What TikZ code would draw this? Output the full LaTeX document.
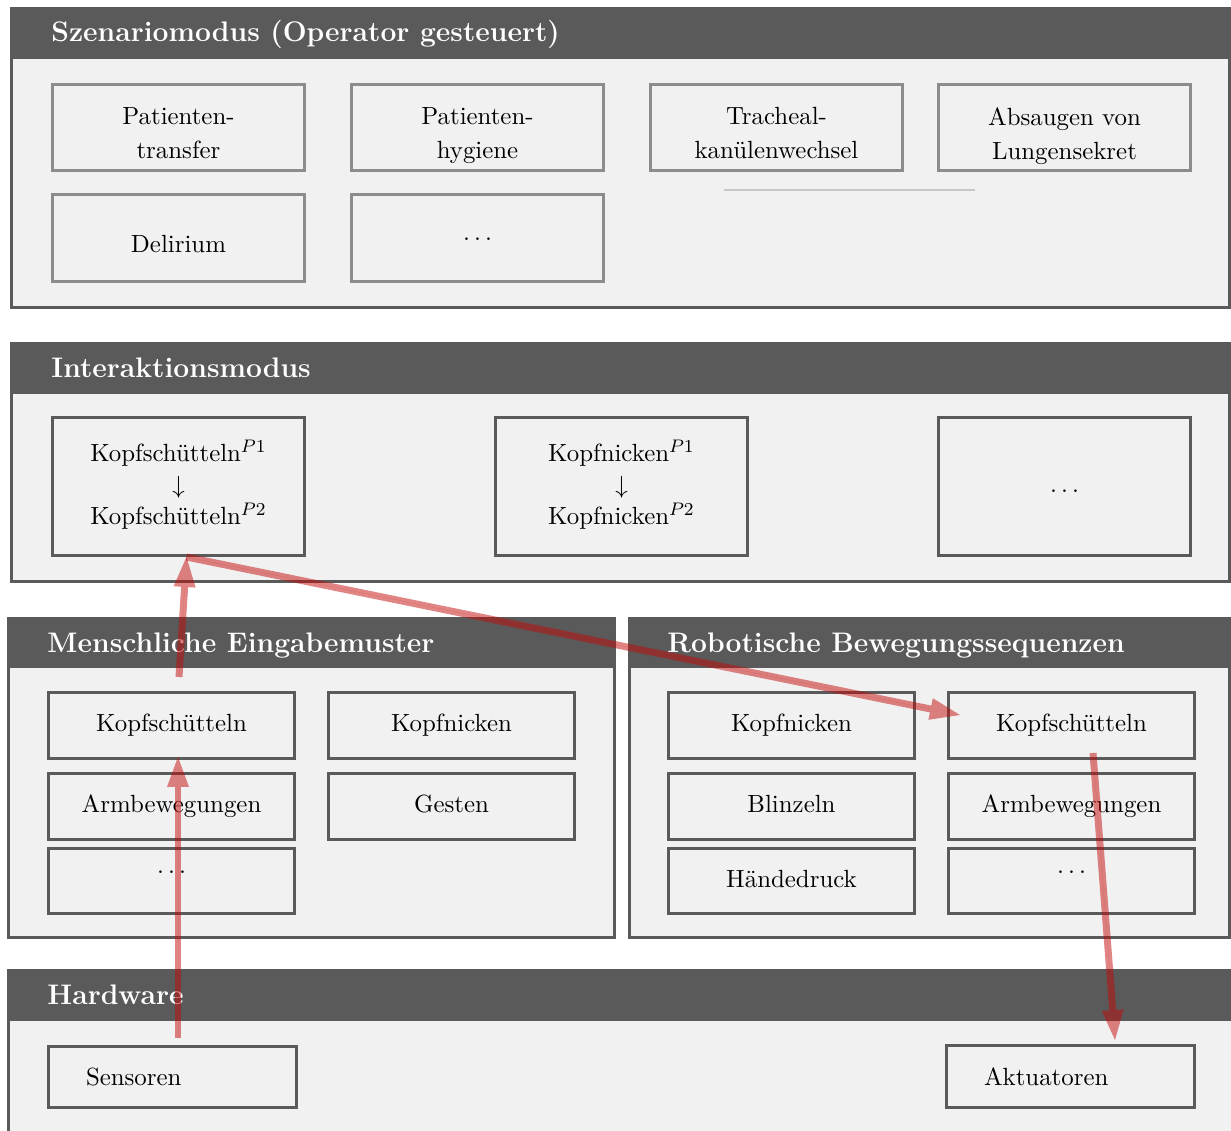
\documentclass[tikz,border=0pt]{standalone}
\usetikzlibrary{arrows.meta,calc}
\definecolor{hdr}{HTML}{5A5A5A}
\definecolor{pfill}{HTML}{F1F1F1}
\definecolor{lbord}{HTML}{8C8C8C}
\definecolor{faintline}{HTML}{C8C8C8}
\definecolor{arrred}{RGB}{195,10,10}
\begin{document}
\begin{tikzpicture}[x=0.4405pt,y=-0.4405pt,
  panel/.style={fill=pfill,draw=hdr,line width=1.32pt},
  ptitle/.style={anchor=base west,inner sep=0pt,text=white,font=\fontsize{12.45}{15}\selectfont\bfseries},
  basebox/.style={fill=pfill,line width=1.32pt,inner sep=0pt,font=\fontsize{10.95}{13.6}\selectfont},
  sbox/.style={basebox,draw=lbord,minimum width=111pt,minimum height=37.9pt},
  ibox/.style={basebox,draw=hdr,minimum width=111pt,minimum height=60.8pt},
  mbox/.style={basebox,draw=hdr,minimum width=108.4pt,minimum height=29.07pt,text height=7.6pt,text depth=2.1pt},
  hbox/.style={basebox,draw=hdr,minimum width=109.2pt,minimum height=27.3pt,inner xsep=16.5pt,text height=7.6pt,text depth=0pt},
  stext/.style={anchor=north,inner sep=0pt,align=center,font=\fontsize{10.95}{14.9}\selectfont},
  itext/.style={anchor=north,inner sep=0pt,align=center,font=\fontsize{10.95}{13.9}\selectfont},
  arr/.style={draw=arrred,fill=arrred,opacity=0.5,line width=3.08pt,-{Triangle[width=9.7pt,length=13.2pt,line width=0pt]}}
]
\useasboundingbox (0,0) rectangle (1231,1131);
\clip (0,0) rectangle (1231,1131);

% Panel 1: Szenariomodus
\draw[panel] (11.5,8.5) rectangle (1229.5,307.5);
\fill[hdr] (10,7) rectangle (1231,59.5);
\node[ptitle] (t1) at (51,42) {Szenariomodus (Operator gesteuert)};
\node[sbox] (s1) at (178.5,127.5) {};
\node[stext] (s1t) at (178.5,107) {Patienten-\\transfer};
\node[sbox] (s2) at (477.5,127.5) {};
\node[stext] (s2t) at (477.5,107) {Patienten-\\hygiene};
\node[sbox] (s3) at (776.5,127.5) {};
\node[stext] (s3t) at (776.5,107) {Tracheal-\\kanülenwechsel};
\node[sbox] (s4) at (1064.5,127.5) {};
\node[stext] (s4t) at (1064.5,107) {Absaugen von\\Lungensekret};
\node[sbox,text height=13.2pt,text depth=0pt] (s5) at (178.5,238) {Delirium};
\node[sbox,text height=2.2pt,text depth=0pt] (s6) at (477.5,238) {$\ldots$};
\draw[faintline,line width=0.66pt] (724,190) -- (975,190);

% Panel 2: Interaktionsmodus
\draw[panel] (11.5,343.5) rectangle (1229.5,581);
\fill[hdr] (10,342) rectangle (1231,394);
\node[ptitle] (t2) at (51,377.7) {Interaktionsmodus};
\node[ibox] (i1) at (178.5,486.5) {};
\node[itext] (i1t) at (178.5,440) {Kopfschütteln$^{P1}$\\$\downarrow$\\Kopfschütteln$^{P2}$};
\node[ibox] (i2) at (621.5,486.5) {};
\node[itext] (i2t) at (621.5,440) {Kopfnicken$^{P1}$\\$\downarrow$\\Kopfnicken$^{P2}$};
\node[ibox,text height=5.7pt,text depth=0pt] (i3) at (1064.5,486.5) {$\ldots$};

% Panel 3: Menschliche Eingabemuster
\draw[panel] (8.5,618.5) rectangle (614.5,937.5);
\fill[hdr] (7,617) rectangle (616,668);
\node[ptitle] (t3) at (47,652) {Menschliche Eingabemuster};
\node[mbox] (m1) at (171.5,725.5) {Kopfschütteln};
\node[mbox] (m2) at (451.5,725.5) {Kopfnicken};
\node[mbox] (m3) at (171.5,806.5) {Armbewegungen};
\node[mbox] (m4) at (451.5,806.5) {Gesten};
\node[mbox,minimum height=28.6pt,text height=1pt,text depth=8pt] (m5) at (171.5,881) {$\ldots$};

% Panel 4: Robotische Bewegungssequenzen
\draw[panel] (629.5,618.5) rectangle (1229.5,937.5);
\fill[hdr] (628,617) rectangle (1231,668);
\node[ptitle] (t4) at (667,652) {Robotische Bewegungssequenzen};
\node[mbox] (r1) at (791.5,725.5) {Kopfnicken};
\node[mbox] (r2) at (1071.5,725.5) {Kopfschütteln};
\node[mbox] (r3) at (791.5,806.5) {Blinzeln};
\node[mbox] (r4) at (1071.5,806.5) {Armbewegungen};
\node[mbox,minimum height=28.6pt] (r5) at (791.5,881) {Händedruck};
\node[mbox,minimum height=28.6pt,text height=1pt,text depth=8pt] (r6) at (1071.5,881) {$\ldots$};

% Panel 5: Hardware
\draw[panel] (8.5,970.5) rectangle (1240,1140);
\fill[hdr] (7,969) rectangle (1240,1020.5);
\node[ptitle] (t5) at (47,1004.3) {Hardware};
\node[hbox] (sens) at (172.5,1077) {\makebox[76.2pt][l]{Sensoren}};
\node[hbox] (akt) at (1070.5,1076.5) {\makebox[76.2pt][l]{Aktuatoren}};

% Arrows
\draw[arr] ($(sens.north)+(5.5,-7)$) -- ($(m1.south)+(6.5,-3)$);
\draw[arr] ($(m1.north)+(7.5,-14)$) -- ($(i1.south)+(8,0)$);
\draw[arr] ($(i1.south)+(8,0)$) -- ($(r2.west)+(13,-10.5)$);
\draw[arr] ($(r2.south)+(21.5,-7)$) -- ($(akt.north)+(44.5,-4)$);
\end{tikzpicture}
\end{document}
